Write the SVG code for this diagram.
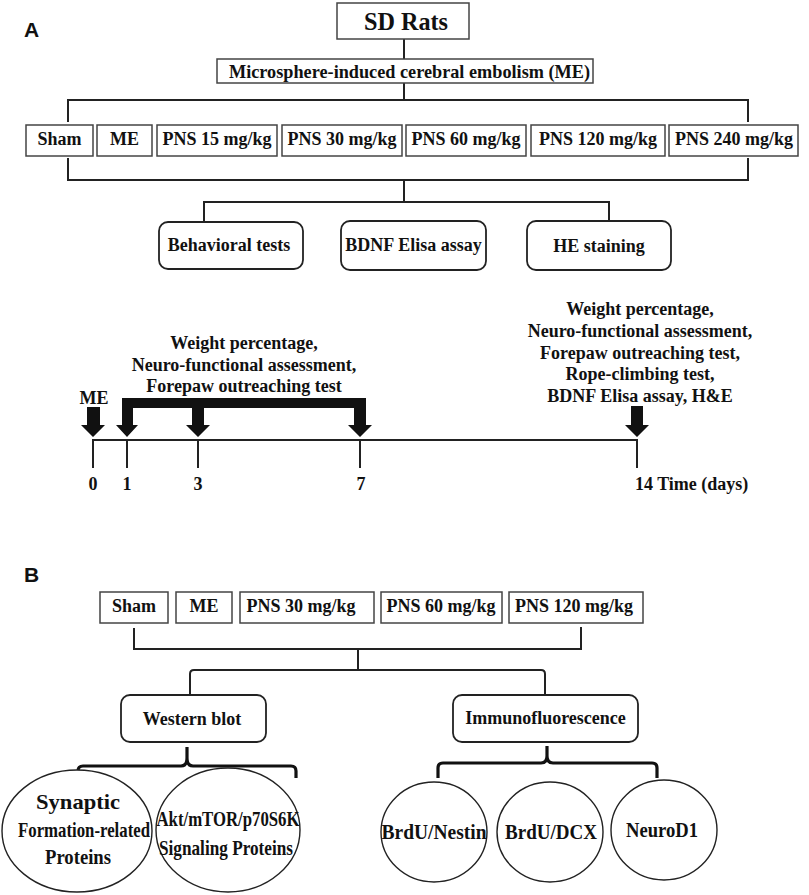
<svg xmlns="http://www.w3.org/2000/svg" width="809" height="895" viewBox="0 0 809 895">
<style>
.bg{fill:#fff}
.box{fill:#fff;stroke:#444;stroke-width:1.5}
.rbox{fill:#fff;stroke:#222;stroke-width:1.8}
.ell{fill:#fff;stroke:#222;stroke-width:1.4}
.ln{fill:none;stroke:#222;stroke-width:2}
.brace{fill:none;stroke:#111;stroke-width:3.2;stroke-linejoin:round}
.t{font-family:"Liberation Serif","Times New Roman",serif;font-weight:bold;fill:#111;text-anchor:middle}
.s18{font-size:18px}
.s21{font-size:21px}
.lab{font-family:"Liberation Sans",Arial,sans-serif;font-weight:bold;font-size:21px;fill:#111}
.arr{fill:#111}
</style>
<rect class="bg" x="0" y="0" width="809" height="895"/>

<text class="lab" x="24" y="37">A</text>
<text class="lab" x="24" y="582">B</text>

<g id="connectors">
  <path class="ln" d="M404,39 V59"/>
  <path class="ln" d="M404,83 V100"/>
  <path class="ln" d="M68,122 V100 H748 V122"/>
  <path class="ln" d="M68,158 V180 H748 V158"/>
  <path class="ln" d="M404,180 V202"/>
  <path class="ln" d="M204,222 V202 H609 V221"/>
  <path class="ln" d="M134,628 V649 H581 V627"/>
  <path class="ln" d="M358,649 V670"/>
  <path class="ln" d="M190,694 V674 Q190,670 194,670 H541 Q545,670 545,674 V694"/>
  <path class="brace" d="M78,778 V771 Q78,766 83,766 H181 Q187,766 187,758 V747 M187,758 Q187,766 193,766 H291 Q296,766 296,771 V778"/>
  <path class="brace" d="M438,778 V768 Q438,763 443,763 H541 Q547,763 547,756 V746 M547,756 Q547,763 553,763 H652 Q657,763 657,768 V778"/>
</g>

<g id="sd-rats">
  <rect class="box" x="337" y="3" width="132" height="36"/>
  <text class="t" x="406" y="30" style="font-size:25px" textLength="84" lengthAdjust="spacingAndGlyphs">SD Rats</text>
</g>
<g id="me-model">
  <rect class="box" x="217" y="59" width="376" height="24"/>
  <text class="t" x="409.5" y="78" style="font-size:19px" textLength="361" lengthAdjust="spacingAndGlyphs">Microsphere-induced cerebral embolism (ME)</text>
</g>

<g id="a-sham"><rect class="box" x="26" y="125" width="67" height="31"/><text class="t s18" x="59.5" y="145">Sham</text></g>
<g id="a-me"><rect class="box" x="97" y="125" width="55" height="31"/><text class="t s18" x="124.5" y="145">ME</text></g>
<g id="a-pns15"><rect class="box" x="157" y="125" width="120" height="31"/><text class="t s18" x="217" y="145">PNS 15 mg/kg</text></g>
<g id="a-pns30"><rect class="box" x="282" y="125" width="120" height="31"/><text class="t s18" x="342" y="145">PNS 30 mg/kg</text></g>
<g id="a-pns60"><rect class="box" x="406" y="125" width="120" height="31"/><text class="t s18" x="466" y="145">PNS 60 mg/kg</text></g>
<g id="a-pns120"><rect class="box" x="531" y="125" width="134" height="31"/><text class="t s18" x="598" y="145">PNS 120 mg/kg</text></g>
<g id="a-pns240"><rect class="box" x="669" y="125" width="129" height="31"/><text class="t s18" x="734" y="145">PNS 240 mg/kg</text></g>

<g id="behavioral"><rect class="rbox" x="159" y="222" width="144" height="47" rx="9"/><text class="t s18" x="229" y="251">Behavioral tests</text></g>
<g id="bdnf"><rect class="rbox" x="341" y="221" width="145" height="49" rx="9"/><text class="t s18" x="413.5" y="251">BDNF Elisa assay</text></g>
<g id="he"><rect class="rbox" x="527" y="221" width="144" height="49" rx="9"/><text class="t s18" x="599" y="252">HE staining</text></g>

<g id="timeline">
  <path class="ln" d="M93,468 V440 H637 V468"/>
  <path class="ln" d="M127,440 V468 M198,440 V468 M360,440 V468"/>
  <path class="arr" d="M87,407 H100 V425 H105 L93,437 L81,425 H87 Z"/>
  <path class="arr" d="M122,398 H366 V425 H372 L360,437 L348,425 H354 V408 H204 V425 H210 L198,437 L186,425 H192 V408 H133 V425 H138 L127,437 L116,425 H122 Z"/>
  <path class="arr" d="M631,406 H643 V425 H649 L637,437 L625,425 H631 Z"/>
  <text class="t s18" x="94" y="404">ME</text>
  <text class="t s18" x="93" y="490">0</text>
  <text class="t s18" x="127" y="490">1</text>
  <text class="t s18" x="198" y="490">3</text>
  <text class="t s18" x="361" y="490">7</text>
  <text class="t s18" x="635" y="490" style="text-anchor:start">14 Time (days)</text>
  <text class="t s18" x="244" y="349">Weight percentage,</text>
  <text class="t s18" x="244" y="371">Neuro-functional assessment,</text>
  <text class="t s18" x="244" y="392">Forepaw outreaching test</text>
  <text class="t s18" x="640" y="315">Weight percentage,</text>
  <text class="t s18" x="640" y="337">Neuro-functional assessment,</text>
  <text class="t s18" x="640" y="359">Forepaw outreaching test,</text>
  <text class="t s18" x="640" y="380">Rope-climbing test,</text>
  <text class="t s18" x="640" y="402">BDNF Elisa assay, H&amp;E</text>
</g>

<g id="b-sham"><rect class="box" x="100" y="592" width="68" height="31"/><text class="t s18" x="134" y="612">Sham</text></g>
<g id="b-me"><rect class="box" x="176" y="592" width="56" height="31"/><text class="t s18" x="204" y="612">ME</text></g>
<g id="b-pns30"><rect class="box" x="240" y="592" width="134" height="31"/><text class="t s18" x="301" y="612">PNS 30 mg/kg</text></g>
<g id="b-pns60"><rect class="box" x="381" y="592" width="121" height="31"/><text class="t s18" x="441" y="612">PNS 60 mg/kg</text></g>
<g id="b-pns120"><rect class="box" x="509" y="592" width="134" height="31"/><text class="t s18" x="574" y="612">PNS 120 mg/kg</text></g>

<g id="western"><rect class="rbox" x="121" y="695" width="145" height="47" rx="9"/><text class="t s18" x="192" y="725">Western blot</text></g>
<g id="immuno"><rect class="rbox" x="453" y="695" width="185" height="47" rx="9"/><text class="t s18" x="545.5" y="724">Immunofluorescence</text></g>

<g id="synaptic">
  <ellipse class="ell" cx="77" cy="831" rx="75" ry="61"/>
  <text class="t s21" x="78" y="809" textLength="84" lengthAdjust="spacingAndGlyphs">Synaptic</text>
  <text class="t s21" x="84" y="837" textLength="132" lengthAdjust="spacingAndGlyphs">Formation-related</text>
  <text class="t s21" x="78" y="864" textLength="66" lengthAdjust="spacingAndGlyphs">Proteins</text>
</g>
<g id="akt">
  <ellipse class="ell" cx="228" cy="830" rx="72" ry="62"/>
  <text class="t s21" x="228" y="826" textLength="143" lengthAdjust="spacingAndGlyphs">Akt/mTOR/p70S6K</text>
  <text class="t s21" x="226" y="855" textLength="134" lengthAdjust="spacingAndGlyphs">Signaling Proteins</text>
</g>
<g id="brdu-nestin">
  <ellipse class="ell" cx="434" cy="832" rx="53" ry="50"/>
  <text class="t s21" x="434" y="839" textLength="105" lengthAdjust="spacingAndGlyphs">BrdU/Nestin</text>
</g>
<g id="brdu-dcx">
  <ellipse class="ell" cx="550" cy="832" rx="53" ry="50"/>
  <text class="t s21" x="551" y="839" textLength="92" lengthAdjust="spacingAndGlyphs">BrdU/DCX</text>
</g>
<g id="neurod1">
  <ellipse class="ell" cx="664" cy="830" rx="53" ry="50"/>
  <text class="t s21" x="662" y="837" textLength="72" lengthAdjust="spacingAndGlyphs">NeuroD1</text>
</g>
</svg>
